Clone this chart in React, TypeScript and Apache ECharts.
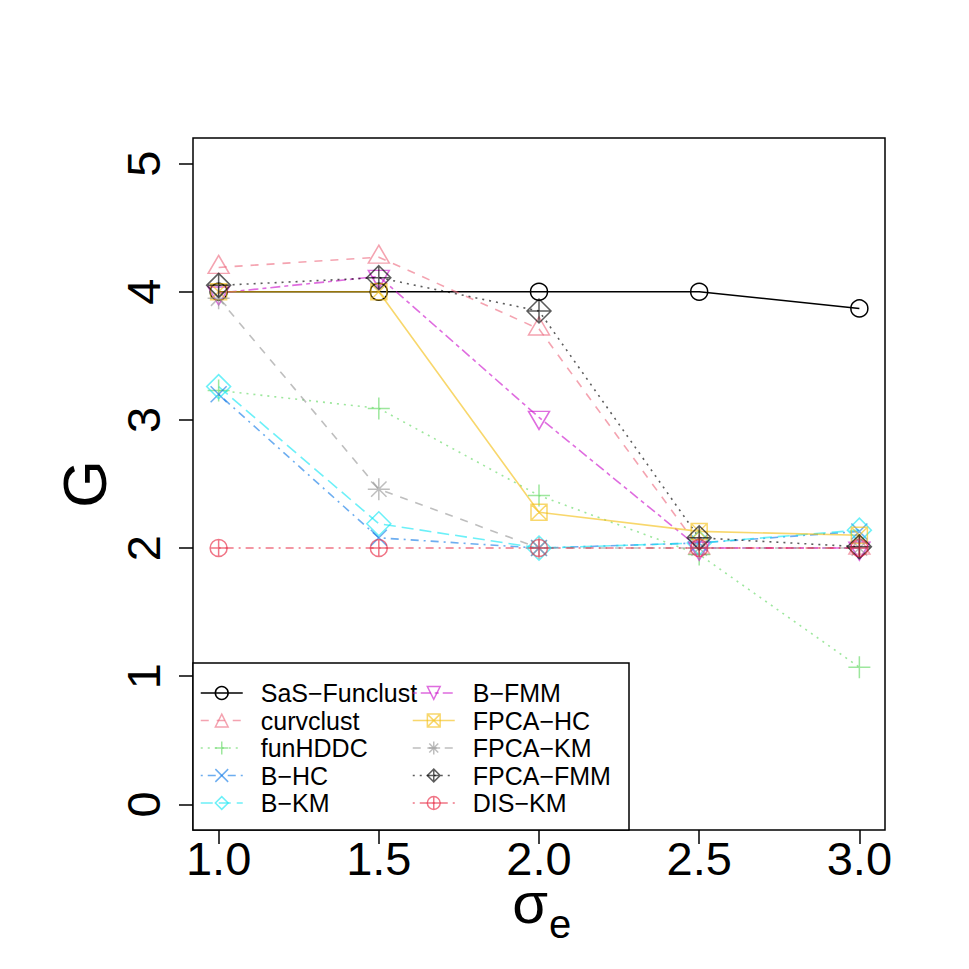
import React, { useEffect, useRef } from "react";
import * as echarts from "echarts";

const sigma = [1.0, 1.5, 2.0, 2.5, 3.0];
const xTicks = [1.0, 1.5, 2.0, 2.5, 3.0];
const yTicks = [0, 1, 2, 3, 4, 5];

const sasFunclust = [4.0, 4.0, 4.0, 4.0, 3.87];
const curvclust = [4.19, 4.27, 3.71, 2.0, 2.0];
const funHDDC = [3.23, 3.09, 2.41, 1.95, 1.07];
const bHC = [3.2, 2.08, 2.0, 2.04, 2.13];
const bKM = [3.26, 2.19, 2.0, 2.04, 2.14];
const bFMM = [3.99, 4.12, 3.02, 2.0, 2.0];
const fpcaHC = [4.0, 4.0, 2.28, 2.13, 2.1];
const fpcaKM = [3.95, 2.46, 2.0, 2.0, 2.0];
const fpcaFMM = [4.05, 4.11, 3.85, 2.08, 2.01];
const disKM = [2.0, 2.0, 2.0, 2.0, 2.0];

const names = [
  "SaS\u2212Funclust",
  "curvclust",
  "funHDDC",
  "B\u2212HC",
  "B\u2212KM",
  "B\u2212FMM",
  "FPCA\u2212HC",
  "FPCA\u2212KM",
  "FPCA\u2212FMM",
  "DIS\u2212KM",
];
const values = [sasFunclust, curvclust, funHDDC, bHC, bKM, bFMM, fpcaHC, fpcaKM, fpcaFMM, disKM];

const colors = [
  "#000000",
  "rgba(237,107,127,0.62)",
  "rgba(97,217,97,0.62)",
  "rgba(17,123,230,0.62)",
  "rgba(17,230,243,0.62)",
  "rgba(203,17,203,0.62)",
  "rgba(243,190,17,0.62)",
  "rgba(150,150,150,0.62)",
  "rgba(0,0,0,0.64)",
  "rgba(230,33,60,0.62)",
];

const dashes: any[] = [
  "solid",
  [8, 8],
  [2, 5],
  [2, 5, 8, 5],
  [12, 6],
  [4, 4, 10, 4],
  "solid",
  [8, 8],
  [2, 5],
  [2, 5, 8, 5],
];

const symbols = [
  "circle",
  "path://M5,0L10,8.66L0,8.66Z",
  "path://M0,5L10,5M5,0L5,10",
  "path://M0,0L10,10M10,0L0,10",
  "path://M5,0L10,5L5,10L0,5Z",
  "path://M0,0L10,0L5,8.66Z",
  "path://M0,0L10,0L10,10L0,10ZM0,0L10,10M10,0L0,10",
  "path://M0,5L10,5M5,0L5,10M1.5,1.5L8.5,8.5M8.5,1.5L1.5,8.5",
  "path://M5,0L10,5L5,10L0,5ZM0,5L10,5M5,0L5,10",
  "path://M0,5A5,5,0,1,1,10,5A5,5,0,1,1,0,5ZM0,5L10,5M5,0L5,10",
];
const symbolSizes: any[] = [17, [21, 18], 22, 16, 24, [21, 18], 16, 22, 24, 17];
const symbolOffsets: any[] = [
  [0, 0],
  [0, -3],
  [0, 0],
  [0, 0],
  [0, 0],
  [0, 3],
  [0, 0],
  [0, 0],
  [0, 0],
  [0, 0],
];

const FONT = "Liberation Sans, Arial, Helvetica, sans-serif";

export default function App() {
  const ref = useRef<HTMLDivElement>(null);
  useEffect(() => {
    if (!ref.current) return;
    const chart = echarts.init(ref.current, undefined, { renderer: "svg" });
    const series = names.map((n, i) => ({
      name: n,
      type: "line",
      data: sigma.map((x, j) => [x, values[i][j]]),
      symbol: symbols[i],
      symbolSize: symbolSizes[i],
      symbolOffset: symbolOffsets[i],
      showAllSymbol: true,
      lineStyle: { color: colors[i], width: 1.6, type: dashes[i] },
      itemStyle: { color: "rgba(0,0,0,0)", borderColor: colors[i], borderWidth: 1.5 },
      emphasis: { disabled: true },
      z: 3,
    }));
    const legendCommon = {
      orient: "vertical",
      itemWidth: 42,
      itemHeight: 16,
      itemGap: 2.5,
      padding: 0,
      selectedMode: false,
      textStyle: {
        color: "#000",
        fontSize: 25,
        fontFamily: FONT,
        lineHeight: 25,
        padding: [0, 0, 0, 13],
      },
      lineStyle: { width: 1.5 },
      itemStyle: { borderWidth: 1.5 },
      z: 10,
    };
    chart.setOption({
      animation: false,
      backgroundColor: "#fff",
      grid: {
        left: 193,
        top: 138,
        right: 84,
        bottom: 139,
        show: true,
        borderColor: "#000",
        borderWidth: 1.5,
        containLabel: false,
      },
      xAxis: {
        type: "value",
        min: 0.92,
        max: 3.08,
        axisLine: { show: false, onZero: false },
        splitLine: { show: false },
        axisTick: {
          show: true,
          length: 14,
          customValues: xTicks,
          lineStyle: { color: "#000", width: 1.5 },
        },
        axisLabel: {
          show: true,
          customValues: xTicks,
          formatter: (v: number) => v.toFixed(1),
          fontSize: 47,
          fontFamily: FONT,
          color: "#000",
          margin: 8,
          lineHeight: 40,
        },
      },
      yAxis: {
        type: "value",
        min: -0.2,
        max: 5.2,
        axisLine: { show: false, onZero: false },
        splitLine: { show: false },
        axisTick: {
          show: true,
          length: 14,
          customValues: yTicks,
          lineStyle: { color: "#000", width: 1.5 },
        },
        axisLabel: {
          show: true,
          customValues: yTicks,
          formatter: (v: number) => String(v),
          fontSize: 47,
          fontFamily: FONT,
          color: "#000",
          rotate: 90,
          margin: 50,
          align: "center",
          verticalAlign: "middle",
        },
      },
      legend: [
        { ...legendCommon, left: 200, top: 680.5, data: names.slice(0, 5) },
        { ...legendCommon, left: 412, top: 680.5, data: names.slice(5, 10) },
      ],
      graphic: [
        {
          type: "rect",
          shape: { x: 193, y: 663, width: 436, height: 167 },
          style: { fill: "#fff", stroke: "#000", lineWidth: 1.5 },
          z: 5,
        },
        {
          type: "text",
          x: 85,
          y: 484,
          rotation: Math.PI / 2,
          style: {
            text: "G",
            fontSize: 61,
            fontFamily: FONT,
            fill: "#000",
            align: "center",
            verticalAlign: "middle",
          },
        },
        {
          type: "text",
          x: 548,
          y: 902,
          style: {
            text: "\u03C3",
            fontSize: 58,
            lineHeight: 30,
            fontFamily: FONT,
            fill: "#000",
            align: "right",
            verticalAlign: "middle",
          },
        },
        {
          type: "text",
          x: 549,
          y: 924,
          style: {
            text: "e",
            fontSize: 40,
            lineHeight: 22,
            fontFamily: FONT,
            fill: "#000",
            align: "left",
            verticalAlign: "middle",
          },
        },
      ],
      series,
    });
    return () => chart.dispose();
  }, []);
  return (
    <div
      ref={ref}
      style={{ position: "fixed", left: 0, top: 0, width: 969, height: 969 }}
    />
  );
}
